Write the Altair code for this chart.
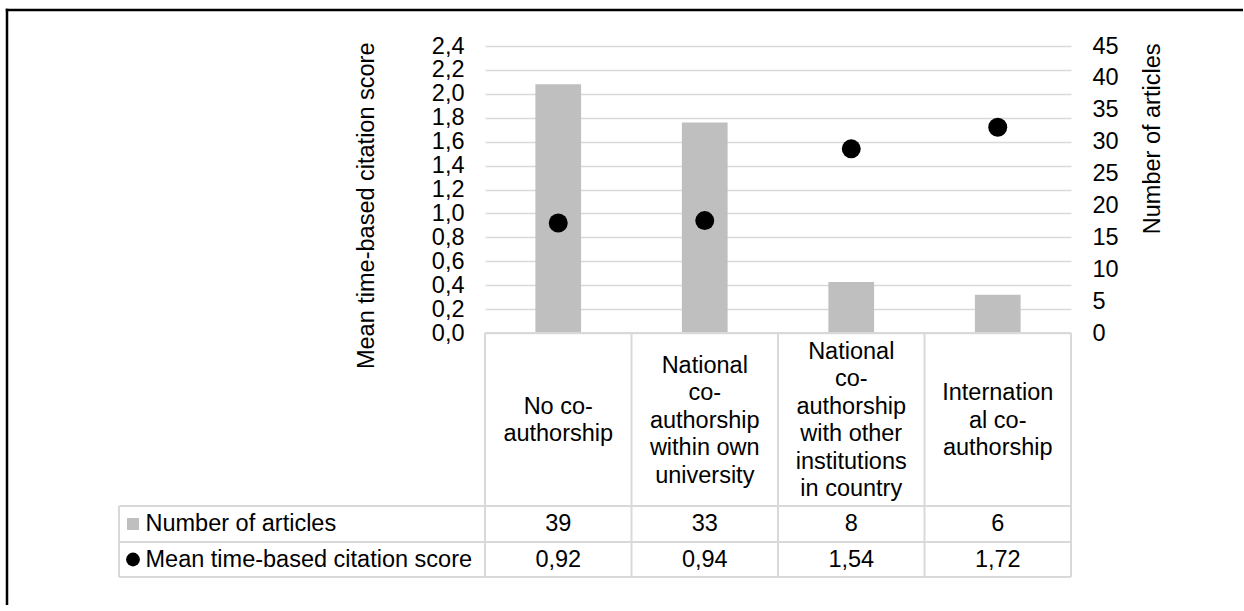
import altair as alt
import pandas as pd

# ---- data -------------------------------------------------------------
categories = [
    "No co-authorship",
    "National co-authorship within own university",
    "National co-authorship with other institutions in country",
    "International co-authorship",
]
header_lines = [
    "No co-\nauthorship",
    "National\nco-\nauthorship\nwithin own\nuniversity",
    "National\nco-\nauthorship\nwith other\ninstitutions\nin country",
    "Internation\nal co-\nauthorship",
]
articles = [39, 33, 8, 6]
scores = [0.92, 0.94, 1.54, 1.72]
score_ticks = [0.0, 0.2, 0.4, 0.6, 0.8, 1.0, 1.2, 1.4, 1.6, 1.8, 2.0, 2.2, 2.4]
article_ticks = [0, 5, 10, 15, 20, 25, 30, 35, 40, 45]
row_labels = ["Number of articles", "Mean time-based citation score"]

df = pd.DataFrame({
    "category": categories,
    "header": header_lines,
    "articles": articles,
    "score": scores,
})
one = pd.DataFrame({"k": [0]})

# ---- layout / style ---------------------------------------------------
W, H = 586, 287            # plot area
PAD_L, PAD_T = 485, 46     # offset of the plot area on the page
PAGE_W, PAGE_H = 1244, 605
FONT = "Liberation Sans"
FS = 23.5
LINE_H = 27.5
GRID = "#d9d9d9"
BAR = "#bfbfbf"

COL = W / 4
ROW1_TOP, ROW2_TOP, TABLE_BOTTOM = 460, 496, 531
TABLE_LEFT = -366
HEADER_MID = 374.5
ROW1_Y = (ROW1_TOP + ROW2_TOP) / 2
ROW2_Y = (ROW2_TOP + TABLE_BOTTOM) / 2

x_enc = alt.X(
    "category:N", sort=categories, axis=None,
    scale=alt.Scale(paddingInner=0.688, paddingOuter=0.344),
)

bars = alt.Chart(df).mark_bar(color=BAR).encode(
    x=x_enc,
    y=alt.Y(
        "articles:Q",
        scale=alt.Scale(domain=[0, 45], nice=False),
        axis=alt.Axis(
            orient="right", values=article_ticks, grid=False, domain=False,
            ticks=False, labelPadding=21, title=row_labels[0],
            titleAngle=270, titleAlign="right", titleBaseline="alphabetic",
            titleX=88.5, titleY=-3,
        ),
    ),
)

points = alt.Chart(df).mark_circle(color="black", opacity=1, size=360).encode(
    x=x_enc,
    y=alt.Y(
        "score:Q",
        scale=alt.Scale(domain=[0, 2.4], nice=False),
        axis=alt.Axis(
            orient="left", values=score_ticks, grid=True, gridColor=GRID,
            gridWidth=1.5, domain=False, ticks=False, labelPadding=21,
            labelExpr="replace(format(datum.value, '.1f'), '.', ',')",
            title=row_labels[1], titleAngle=270, titleAlign="right",
            titleBaseline="alphabetic", titleX=-112, titleY=-4,
        ),
    ),
)


def hline(y, x0, x1, color=GRID, width=2):
    return alt.Chart(one).mark_rule(color=color, strokeWidth=width).encode(
        x=alt.value(x0), x2=alt.value(x1), y=alt.value(y)
    )


def vline(x, y0, y1, color=GRID, width=2):
    return alt.Chart(one).mark_rule(color=color, strokeWidth=width).encode(
        x=alt.value(x), y=alt.value(y0), y2=alt.value(y1)
    )


# data table grid below the plot
table_lines = [
    hline(H, 0, W),
    hline(ROW1_TOP, TABLE_LEFT, W),
    hline(ROW2_TOP, TABLE_LEFT, W),
    hline(TABLE_BOTTOM, TABLE_LEFT, W),
    vline(TABLE_LEFT, ROW1_TOP, TABLE_BOTTOM),
] + [vline(i * COL, H, TABLE_BOTTOM) for i in range(5)]

# outer frame (top and left edges), kept inside the page
frame = [
    hline(-36, -479.25, PAGE_W - PAD_L - 1, color="black", width=2.5),
    vline(-478, -37.25, PAGE_H - PAD_T, color="black", width=2.5),
]

text_style = dict(font=FONT, fontSize=FS, color="black")

# category headers: multi-line block centred vertically in the header cell
header_text = alt.Chart(df).transform_calculate(
    ty=f"{HEADER_MID} - (length(split(datum.header, '\\n')) - 1) * {LINE_H} / 2"
).mark_text(
    lineBreak="\n", lineHeight=LINE_H, baseline="middle", align="center", **text_style
).encode(x=x_enc, y=alt.Y("ty:Q", scale=None, axis=None), text="header:N")

articles_text = alt.Chart(df).mark_text(baseline="middle", align="center", **text_style).encode(
    x=x_enc, y=alt.value(ROW1_Y), text="articles:Q"
)
scores_text = alt.Chart(df).transform_calculate(
    score_label="replace(format(datum.score, '.2f'), '.', ',')"
).mark_text(baseline="middle", align="center", **text_style).encode(
    x=x_enc, y=alt.value(ROW2_Y), text="score_label:N"
)

row1_label = alt.Chart(one).mark_text(baseline="middle", align="left", **text_style).encode(
    x=alt.value(-339.5), y=alt.value(ROW1_Y), text=alt.value(row_labels[0])
)
row2_label = alt.Chart(one).mark_text(baseline="middle", align="left", **text_style).encode(
    x=alt.value(-339.5), y=alt.value(ROW2_Y), text=alt.value(row_labels[1])
)

legend_square = alt.Chart(one).mark_square(color=BAR, opacity=1, size=144).encode(
    x=alt.value(-352), y=alt.value(ROW1_Y)
)
legend_dot = alt.Chart(one).mark_circle(color="black", opacity=1, size=190).encode(
    x=alt.value(-352), y=alt.value(ROW2_Y)
)

chart = alt.layer(
    bars, points, *table_lines, *frame,
    header_text, articles_text, scores_text, row1_label, row2_label,
    legend_square, legend_dot,
).resolve_scale(
    y="independent"
).properties(
    width=W,
    height=H,
    padding={"left": PAD_L, "top": PAD_T, "right": PAGE_W - PAD_L - W, "bottom": PAGE_H - PAD_T - H},
    autosize=alt.AutoSizeParams(type="none"),
    background="white",
).configure_axis(
    labelFont=FONT, labelFontSize=FS, labelColor="black",
    titleFont=FONT, titleFontSize=FS, titleFontWeight="normal", titleColor="black",
).configure_view(
    strokeWidth=0
)

chart.save("out.html", embed_options={"renderer": "svg", "actions": False})
